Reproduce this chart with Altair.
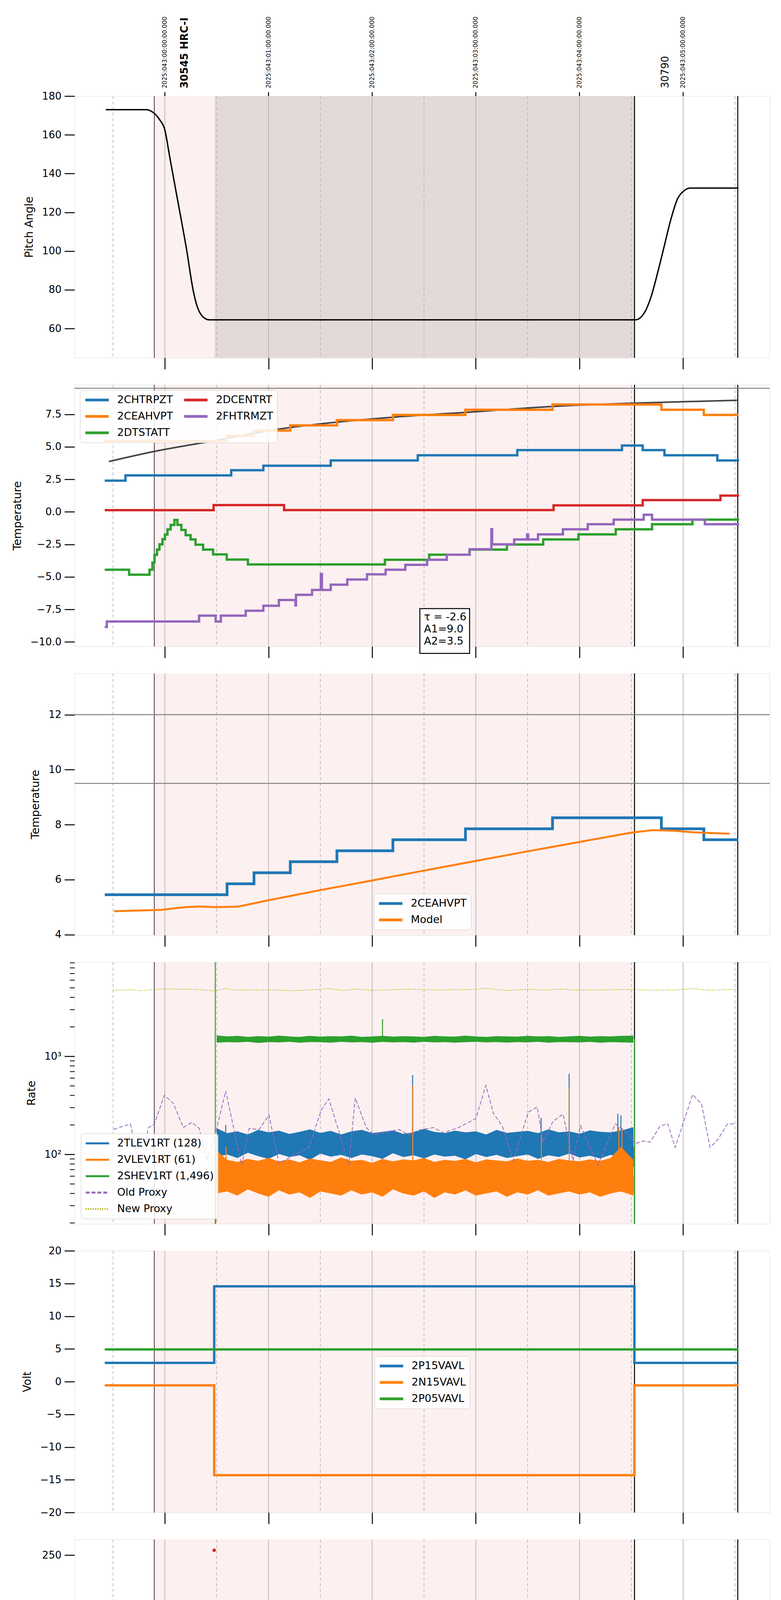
import altair as alt
import pandas as pd

FONT = "DejaVu Sans"
W, H, GAP = 1780, 670, 69
XDOM = [18.129, 24.835]
BLUE, ORANGE, GREEN, RED, PURPLE, OLIVE = "#1f77b4", "#ff7f0e", "#2ca02c", "#d62728", "#9467bd", "#bcbd22"

# ---------------- time reference data (hours of local day; 24 = 00h) ----------------
HOURS = [19, 20, 21, 22, 23, 24]
HALF_HOURS = [18.5, 19.5, 20.5, 21.5, 22.5, 23.5, 24.5]
HALF_LABELS = ["30", "30", "30", "30", "30", "30", "30"]
OBS = [18.898, 23.531]
DWELL = [19.479, 23.531]
VLINES = [18.898, 23.531, 24.527]
VLINE_W = [1.5, 2.5, 2.5]
DOY_T = [19, 20, 21, 22, 23, 24]
DOY_LABELS = ["2025:043:00:00:00.000", "2025:043:01:00:00.000", "2025:043:02:00:00.000",
              "2025:043:03:00:00.000", "2025:043:04:00:00.000", "2025:043:05:00:00.000"]
OBSID_BOLD_T, OBSID_BOLD = [19.19], ["30545 HRC-I"]
OBSID_T, OBSID = [23.83], ["30790"]

# ---------------- panel 1: pitch ----------------
PITCH_T = [18.43, 18.82, 18.86, 18.90, 18.95, 19.00, 19.044, 19.10, 19.15, 19.212, 19.272, 19.308,
           19.369, 19.429, 23.541, 23.63, 23.69, 23.754, 23.817, 23.88, 23.943, 24.006, 24.068, 24.534]
PITCH_V = [173.0, 173.0, 172.4, 171.0, 167.8, 162.5, 149.5, 133.0, 118.5, 100.0, 80.0, 72.0,
           66.0, 64.5, 64.5, 68.5, 76.3, 88.8, 102.4, 116.0, 126.6, 131.0, 132.5, 132.5]

# ---------------- panel 2: temperatures ----------------
CHTRPZT_T = [18.42, 18.62, 19.64, 19.95, 20.60, 21.44, 22.40, 23.41, 23.61, 23.82, 24.33, 24.54]
CHTRPZT_V = [2.4, 2.8, 3.2, 3.55, 3.95, 4.35, 4.75, 5.1, 4.75, 4.35, 3.95, 3.95]
CEAHVPT_T = [18.42, 19.60, 19.86, 20.21, 20.66, 21.20, 21.90, 22.74, 23.79, 24.20, 24.53]
CEAHVPT_V = [5.45, 5.85, 6.25, 6.65, 7.05, 7.45, 7.85, 8.25, 7.85, 7.45, 7.45]
DTSTATT_T = [18.42, 18.655, 18.852, 18.880, 18.900, 18.924, 18.948, 18.977, 19.001, 19.025, 19.056, 19.092,
             19.121, 19.159, 19.200, 19.248, 19.296, 19.369, 19.465, 19.597, 19.801, 21.123, 21.55, 21.94,
             22.30, 22.65, 22.99, 23.35, 23.70, 24.09, 24.54]
DTSTATT_V = [-4.45, -4.83, -4.45, -3.9, -3.3, -2.9, -2.5, -2.1, -1.75, -1.35, -1.0, -0.62,
             -1.0, -1.39, -1.79, -2.12, -2.53, -2.9, -3.27, -3.67, -4.04, -3.68, -3.29, -2.9,
             -2.51, -2.12, -1.73, -1.34, -0.95, -0.6, -0.6]
DCENTRT_T = [18.42, 19.47, 20.15, 22.75, 23.61, 24.36, 24.54]
DCENTRT_V = [0.13, 0.52, 0.14, 0.5, 0.9, 1.25, 1.25]
FHTRMZT_T = [18.42, 18.44, 19.33, 19.49, 19.54, 19.78, 19.95, 20.10, 20.26, 20.265, 20.42, 20.505, 20.515,
             20.60, 20.76, 20.95, 21.13, 21.32, 21.53, 21.72, 21.94, 22.15, 22.157, 22.37, 22.495, 22.505,
             22.60, 22.84, 23.08, 23.33, 23.62, 23.70, 24.21, 24.54]
FHTRMZT_V = [-8.85, -8.43, -7.98, -8.43, -7.98, -7.6, -7.22, -6.78, -7.2, -6.38, -6.0, -4.78, -6.0,
             -5.6, -5.2, -4.8, -4.45, -4.07, -3.68, -3.29, -2.87, -1.33, -2.5, -2.12, -1.75, -2.12,
             -1.73, -1.34, -0.95, -0.6, -0.22, -0.6, -0.95, -0.95]
MODEL2_T = [18.46, 18.9, 19.5, 20.05, 20.6, 21.16, 22.0, 22.74, 23.53, 24.52]
MODEL2_V = [3.87, 4.65, 5.5, 6.3, 6.85, 7.25, 7.7, 8.1, 8.36, 8.58]
LIMIT2 = [9.5]
ANN_LINES = ["τ = -2.6", "A1=9.0", "A2=3.5"]
ANN_BOX = {"t0": [21.46], "t1": [21.94], "lo": [-10.88], "hi": [-7.44]}
ANN_POS = {"t": [21.50], "v": [-7.70]}

# ---------------- panel 3: 2CEAHVPT and model ----------------
MODEL3_T = [18.51, 18.97, 19.1, 19.2, 19.33, 19.5, 19.71, 20.0, 20.5, 21.0, 21.5, 22.0, 22.5, 23.0,
            23.5, 23.7, 23.9, 24.1, 24.3, 24.45]
MODEL3_V = [4.85, 4.9, 4.96, 5.0, 5.02, 5.0, 5.02, 5.25, 5.62, 5.97, 6.33, 6.68, 7.03, 7.37,
            7.71, 7.8, 7.78, 7.72, 7.69, 7.67]
LIMITS3 = [12.0, 9.5]

# ---------------- panel 4: rates (log) ----------------
BAND_T = [19.5, 19.6, 19.7, 19.8, 19.9, 20.0, 20.1, 20.2, 20.3, 20.4, 20.5, 20.6, 20.7, 20.8, 20.9, 21.0,
          21.1, 21.2, 21.3, 21.4, 21.5, 21.6, 21.7, 21.8, 21.9, 22.0, 22.1, 22.2, 22.3, 22.4, 22.5, 22.6,
          22.7, 22.8, 22.9, 23.0, 23.1, 23.2, 23.3, 23.4, 23.52]
SHEV_HI = [1640, 1600, 1620, 1580, 1610, 1590, 1630, 1600, 1580, 1620, 1590, 1610, 1600, 1630, 1580, 1600,
           1620, 1590, 1610, 1600, 1580, 1620, 1600, 1590, 1630, 1600, 1580, 1610, 1600, 1590, 1620, 1600,
           1610, 1580, 1600, 1620, 1590, 1610, 1600, 1620, 1630]
SHEV_LO = [1380, 1400, 1390, 1410, 1370, 1400, 1390, 1410, 1380, 1400, 1395, 1380, 1410, 1390, 1400, 1380,
           1405, 1390, 1400, 1385, 1410, 1390, 1400, 1380, 1395, 1410, 1390, 1400, 1385, 1400, 1390, 1410,
           1380, 1400, 1395, 1390, 1405, 1380, 1400, 1390, 1380]
TLEV_HI = [185, 165, 172, 160, 178, 168, 175, 162, 170, 180, 166, 174, 160, 172, 178, 165,
           170, 176, 162, 168, 182, 170, 165, 175, 168, 172, 160, 178, 166, 170, 174, 165,
           180, 168, 172, 163, 176, 170, 168, 175, 190]
TLEV_LO = [95, 100, 92, 104, 96, 90, 101, 94, 98, 88, 102, 95, 99, 92, 100, 96,
           90, 103, 94, 98, 91, 100, 95, 97, 89, 101, 94, 99, 92, 96, 100, 90,
           98, 94, 102, 93, 97, 91, 99, 95, 85]
VLEV_HI = [110, 88, 84, 90, 86, 92, 85, 89, 83, 91, 87, 84, 93, 86, 88, 82,
           90, 85, 89, 87, 92, 84, 88, 86, 90, 83, 89, 87, 85, 91, 86, 88,
           84, 90, 87, 85, 89, 86, 92, 120, 88]
VLEV_LO = [40, 42, 38, 44, 40, 37, 43, 39, 41, 36, 42, 40, 38, 43, 39, 41,
           37, 44, 40, 38, 42, 36, 41, 39, 43, 38, 40, 42, 37, 41, 39, 43,
           38, 40, 42, 39, 41, 37, 40, 42, 38]
TLEV_SPK_T = [19.489, 19.587, 21.39, 22.63, 22.90, 23.37, 23.40, 23.52]
TLEV_SPK_LO = [15, 120, 120, 120, 120, 120, 120, 75]
TLEV_SPK_HI = [150, 200, 645, 236, 665, 260, 250, 120]
VLEV_SPK_T = [19.490, 19.59, 21.392, 22.632, 22.902, 23.38, 23.41, 23.525]
VLEV_SPK_LO = [15, 60, 60, 60, 60, 60, 60, 40]
VLEV_SPK_HI = [70, 120, 505, 160, 485, 190, 180, 60]
SHEV_SPK_T = [19.486, 21.10, 23.532]
SHEV_SPK_LO = [15, 1500, 15]
SHEV_SPK_HI = [12000, 2400, 1500]
OLD_T = [18.505, 18.668, 18.755, 18.842, 18.899, 18.995, 19.082, 19.178, 19.26, 19.332, 19.404, 19.486,
         19.587, 19.659, 19.741, 19.813, 19.909, 20.005, 20.101, 20.197, 20.39, 20.51, 20.582, 20.678,
         20.774, 20.837, 20.943, 21.015, 21.111, 21.255, 21.351, 21.447, 21.592, 21.688, 21.832, 22.0,
         22.097, 22.169, 22.255, 22.361, 22.505, 22.592, 22.649, 22.745, 22.842, 22.938, 23.01, 23.178,
         23.346, 23.443, 23.539, 23.611, 23.683, 23.779, 23.852, 23.923, 24.092, 24.178, 24.26, 24.332,
         24.428, 24.51]
OLD_V = [180, 205, 71, 188, 205, 401, 332, 188, 213, 184, 88, 159,
         445, 196, 78, 184, 180, 252, 81, 92, 118, 286, 369, 173,
         78, 377, 188, 159, 166, 180, 159, 177, 188, 166, 188, 232,
         506, 263, 196, 86, 269, 305, 134, 218, 258, 86, 196, 78,
         205, 173, 129, 137, 134, 196, 205, 118, 409, 325, 118, 140,
         205, 205]
NEW_T = [18.505, 18.668, 18.755, 18.899, 18.995, 19.332, 19.476, 19.587, 19.669, 20.005, 20.197, 20.39,
         20.582, 20.726, 20.837, 21.015, 21.255, 21.351, 21.592, 21.976, 22.097, 22.313, 22.505, 22.649,
         22.842, 22.938, 23.178, 23.515, 23.659, 23.899, 24.092, 24.236, 24.51]
NEW_V = [4707, 4810, 4668, 4810, 4873, 4810, 4668, 4915, 4747, 4768, 4688, 4747,
         4915, 4707, 4873, 4707, 4810, 4852, 4768, 4810, 4957, 4688, 4852, 4747,
         4873, 4727, 4768, 4810, 4727, 4747, 4915, 4727, 4830]
MINOR_LOG = [20, 30, 40, 50, 60, 70, 80, 90, 200, 300, 400, 500, 600, 700, 800, 900,
             2000, 3000, 4000, 5000, 6000, 7000, 8000, 9000]

# ---------------- panel 5: volts ----------------
P15_T, P15_V = [18.42, 19.476, 23.53, 24.534], [2.87, 14.57, 2.87, 2.87]
N15_T, N15_V = [18.42, 19.476, 23.53, 24.534], [-0.57, -14.3, -0.57, -0.57]
P05_T, P05_V = [18.42, 24.534], [4.92, 4.92]

# ---------------- panel 6: HV monitor ----------------
IMHBLV_T = [19.476, 19.478, 19.479, 19.480, 19.482, 19.485, 19.488, 19.492, 19.496, 19.500, 19.505,
            19.510, 19.520, 19.530, 21.265, 21.361, 21.380, 21.447, 21.472, 21.553, 21.568, 21.673,
            22.914, 22.972, 23.000, 23.024, 23.097, 23.145, 23.164, 23.236, 23.250, 23.347, 23.530]
IMHBLV_V = [255, 127, 123, 119, 105, 106, 101, 97, 95, 92, 90,
            88, 87, 86, 79, 79, 79, 79, 79, 79, 79, 79,
            79, 79, 79, 79, 79, 79, 79, 79, 79, 79, 86]
IMHVLV_T = [19.476, 19.480, 19.485, 19.490, 19.495, 19.500, 21.265, 21.361, 21.380, 21.455, 21.553,
            21.673, 22.914, 22.972, 23.000, 23.024, 23.097, 23.145, 23.164, 23.236, 23.250, 23.347,
            23.356, 23.530]
IMHVLV_V = [99, 95, 90, 86, 83, 80, 127, 127, 127, 127, 127,
            127, 127, 127, 127, 127, 127, 127, 127, 127, 127, 127,
            127, 79]
HV_FLAT = {"t0": [19.50, 19.53], "t1": [23.53, 23.53], "v": [79.3, 86.1]}

# ---------------- panel 7: detector temps ----------------
SPINATM_T = [19.476, 19.63, 19.87, 20.88, 21.06, 21.23, 23.515]
SPINATM_V = [3.17, 2.7, 2.21, 1.74, 1.74, 2.21, 2.21]
SPHVATM_T = [19.476, 19.48, 20.063, 20.524, 20.967, 21.544, 21.794, 22.049, 22.722, 23.515]
SPHVATM_V = [13.0, 13.65, 13.98, 14.34, 14.65, 14.87, 15.0, 15.34, 15.68, 15.68]
IMINATM_T = [19.476, 20.654, 22.121, 23.25, 23.515]
IMINATM_V = [-0.54, -0.07, 0.34, 0.81, 0.81]
IMHVATM_T = [19.474, 19.478, 19.63, 19.741, 19.851, 19.967, 20.092, 20.245, 20.428, 20.654, 20.909,
             21.207, 21.592, 22.097, 22.707, 23.515, 23.52, 23.525]
IMHVATM_V = [-5, 12.99, 13.31, 13.65, 13.98, 14.34, 14.68, 15.0, 15.34, 15.68, 16.03,
             16.37, 16.74, 17.08, 17.4, 17.81, 25, -5]
B7_BLUE = ([20.88, 21.0, 21.115, 21.225, 21.31, 21.56, 21.64, 22.83, 22.88, 23.02, 23.12, 23.23, 23.34],
           [20.96, 21.02, 21.127, 21.29, 21.53, 21.595, 21.80, 22.86, 22.99, 23.08, 23.16, 23.26, 23.36],
           [1.74, 1.74, -3, -3, -3, -3, -3, -3, -3, -3, -3, -3, -3],
           [2.21, 2.21, 2.21, 2.21, 2.21, 2.21, 2.21, 2.21, 2.21, 2.21, 2.21, 2.21, 2.21])
B7_ORANGE = ([21.115, 21.225, 21.33, 21.49, 21.52, 21.548, 21.60, 21.665, 22.83, 22.905, 22.93, 23.16, 23.20, 23.345],
             [21.127, 21.30, 21.47, 21.50, 21.585, 21.558, 21.66, 21.79, 22.90, 22.92, 23.13, 23.175, 23.25, 23.365],
             [8.35, 8.35, 8.35, -3, 8.35, -3, 8.35, 8.64, 9.0, -3, 9.0, 9.0, 9.0, 9.3],
             [14.65, 14.65, 14.65, 14.65, 14.87, 14.87, 14.87, 14.87, 15.68, 15.68, 15.68, 15.68, 15.68, 15.68])
B7_GREEN = ([21.115, 21.225, 21.32, 21.50, 21.62, 22.83, 22.88, 23.03, 23.12, 23.23, 23.34],
            [21.127, 21.29, 21.47, 21.60, 21.80, 22.86, 23.00, 23.09, 23.16, 23.26, 23.36],
            [-0.07, -0.07, -0.07, -0.07, -0.07, 0.34, 0.34, 0.34, 0.34, 0.81, 0.81],
            [2.26, 2.26, 2.26, 2.26, 2.26, 2.26, 2.26, 2.26, 2.26, 2.26, 2.26])
B7_RED = ([21.11, 21.22, 21.49, 21.59, 21.72, 22.82, 23.03, 23.25, 23.34],
          [21.12, 21.47, 21.56, 21.70, 21.79, 23.0, 23.20, 23.27, 23.36],
          [14.9, 14.53, 14.53, 14.86, 14.86, 15.56, 15.56, 15.56, 15.56],
          [16.03, 16.37, 16.37, 16.74, 16.74, 17.4, 17.4, 17.4, 17.4])

# ---------------- panel 8: FEA temps ----------------
FRADPYT_T = [18.42, 19.068, 19.404, 19.861, 20.05, 20.27, 20.45, 20.65, 20.85, 21.07, 21.27, 21.505, 21.73,
             21.94, 22.2, 22.45, 22.71, 23.07, 23.265, 23.515, 23.77, 23.87, 23.96, 24.12, 24.41, 24.534]
FRADPYT_V = [-10.3, -9.61, -10.3, -9.61, -9.17, -8.79, -8.38, -7.96, -7.56, -7.16, -6.77, -6.37, -5.97,
             -5.58, -5.18, -4.8, -4.41, -4.03, -3.66, -3.26, -2.89, -2.49, -2.89, -3.26, -3.66, -3.66]
FEPRATM_T = [19.474, 19.478, 19.524, 19.596, 19.659, 19.736, 19.813, 19.933, 20.043, 20.188, 20.332, 20.486,
             20.669, 20.846, 21.039, 21.207, 21.45, 21.62, 21.79, 21.92, 22.17, 22.43, 22.69, 23.18, 23.27, 23.515]
FEPRATM_V = [-9.28, -8.53, -8.11, -7.69, -7.27, -6.86, -6.44, -6.02, -5.6, -5.19, -4.77, -4.37,
             -3.95, -3.52, -3.11, -2.69, -2.26, -1.82, -1.4, -0.97, -0.54, -0.05, 0.37, 0.81, 1.27, 1.27]
FE00ATM_T = [19.474, 19.476, 19.659, 19.765, 19.875, 19.981, 20.087, 20.222, 20.332, 20.452, 20.582, 20.717,
             20.847, 21.005, 21.159, 21.30, 21.808, 21.967, 22.159, 22.337, 22.529, 22.712, 22.866, 23.106,
             23.274, 23.515]
FE00ATM_V = [-10.5, -9.28, -8.91, -8.56, -8.18, -7.82, -7.46, -7.12, -6.72, -6.39, -6.02, -5.67,
             -5.36, -5.0, -4.65, -4.3, -3.29, -2.95, -2.61, -2.26, -1.95, -1.59, -1.35, -0.97,
             -0.65, -0.65]
B8_GREEN = ([21.115, 21.225, 21.31, 21.45, 21.62, 22.83, 22.88, 23.03, 23.12, 23.20, 23.34],
            [21.127, 21.29, 21.45, 21.62, 21.80, 22.86, 23.00, 23.09, 23.16, 23.22, 23.36],
            [-6.09, -6.09, -6.09, -6.09, -6.09, -6.09, -6.09, -6.09, -6.09, -6.09, -6.09],
            [-2.69, -2.69, -2.69, -2.26, -1.82, 0.37, 0.37, 0.37, 0.37, 0.81, 1.27])
B8_RED = ([20.012, 20.083, 20.24, 20.77, 20.963, 22.30, 21.11, 21.23, 21.32, 21.36, 21.43, 21.48, 21.545,
           21.63, 22.78, 22.85, 22.905, 23.17, 23.31, 23.405, 23.44, 23.515],
          [20.02, 20.091, 20.248, 20.778, 20.971, 22.308, 21.122, 21.29, 21.63, 21.38, 21.445, 21.492, 21.56,
           21.81, 22.83, 23.13, 22.925, 23.22, 23.33, 23.415, 23.45, 23.535],
          [-7.82, -8.57, -7.55, -6.1, -6.09, -2.26, -4.65, -5.05, -4.0, -4.4, -4.7, -11, -11,
           -3.68, -4.05, -1.35, -11, -1.0, -0.65, -0.65, -1.0, -11],
          [-7.43, -7.46, -7.12, -5.67, -5.36, -1.95, 2, 2, 2, 2, 2, 2, 2,
           2, 2, 2, 2, 2, 2, 0.05, -0.65, 2])

# ---------------- y-axis specs ----------------
MINUS = "replace(format(datum.value, '{f}'), '-', '\u2212')"
Y1 = dict(dom=[44.9, 180], values=[60, 80, 100, 120, 140, 160, 180], title="Pitch Angle")
Y2 = dict(dom=[-10.35, 9.77], values=[-10, -7.5, -5, -2.5, 0, 2.5, 5, 7.5], title="Temperature",
          expr=MINUS.format(f=".1f"))
Y3 = dict(dom=[3.98, 13.5], values=[4, 6, 8, 10, 12], title="Temperature")
Y4 = dict(dom=[19.6, 9160], values=[100, 1000], title="Rate", log=True,
          expr="datum.value == 100 ? '10\u00b2' : '10\u00b3'")
Y5 = dict(dom=[-20, 20], values=[-20, -15, -10, -5, 0, 5, 10, 15, 20], title="Volt", expr=MINUS.format(f="d"))
Y6 = dict(dom=[0, 266], values=[0, 50, 100, 150, 200, 250], title="HV Monitor")
Y7 = dict(dom=[-2.06, 18.55], values=[0, 2.5, 5, 7.5, 10, 12.5, 15, 17.5], title="Detector Temp",
          expr=MINUS.format(f=".1f"))
Y8 = dict(dom=[-9.88, 1.41], values=[-8, -6, -4, -2, 0], title="FEA Temp", expr=MINUS.format(f="d"))


def X(field="t", bottom=False):
    kw = dict(values=HOURS, tickSize=29, tickWidth=2.5, tickColor="black", domain=False, grid=False)
    if bottom:
        kw.update(labelExpr="datum.value == 24 ? '00h' : datum.value + 'h'", labelFontSize=30,
                  labelPadding=10, title="2025-02-12 (043)", titleFontSize=32, titlePadding=8,
                  labelFont=FONT, titleFont=FONT, titleFontWeight="normal", labelColor="black",
                  titleColor="black")
    else:
        kw.update(labels=False, title=None)
    return alt.X(field, type="quantitative", scale=alt.Scale(domain=XDOM, nice=False, zero=False),
                 axis=alt.Axis(**kw))


def Y(spec, field="v"):
    kw = dict(values=spec["values"], title=spec["title"], tickSize=26, tickWidth=2.5, tickColor="black",
              labelFontSize=26, labelPadding=8, labelFont=FONT, labelColor="black", titleFontSize=28,
              titleFont=FONT, titleFontWeight="normal", titleColor="black", titlePadding=18,
              domain=False, grid=False)
    if spec.get("expr"):
        kw["labelExpr"] = spec["expr"]
    sc = dict(domain=spec["dom"], nice=False, zero=False)
    if spec.get("log"):
        sc["type"] = "log"
    return alt.Y(field, type="quantitative", scale=alt.Scale(**sc), axis=alt.Axis(**kw))


def legend(x, y, columns=1, symbol="stroke", ssize=3600, swidth=7, soff=0, loff=18):
    return alt.Legend(title=None, orient="none", legendX=x, legendY=y, columns=columns, symbolType=symbol,
                      symbolSize=ssize, symbolStrokeWidth=swidth, symbolOffset=soff, labelFontSize=27,
                      labelFont=FONT, labelColor="black", fillColor="rgba(255,255,255,0.85)",
                      strokeColor="#cccccc", cornerRadius=6, padding=10, rowPadding=12, columnPadding=24,
                      labelOffset=loff, labelLimit=600, clipHeight=30)


def background(xb=False, dwell=False):
    lay = [alt.Chart(pd.DataFrame({"t0": [OBS[0]], "t1": [OBS[1]]})).mark_rect(color="#fdf0f0")
           .encode(x=X("t0", xb), x2="t1")]
    if dwell:
        lay.append(alt.Chart(pd.DataFrame({"t0": [DWELL[0]], "t1": [DWELL[1]]})).mark_rect(color="#e4d9d9")
                   .encode(x=X("t0", xb), x2="t1"))
    lay.append(alt.Chart(pd.DataFrame({"t": HOURS})).mark_rule(color="#b4b4b4", strokeWidth=1.8)
               .encode(x=X("t", xb)))
    lay.append(alt.Chart(pd.DataFrame({"t": HALF_HOURS})).mark_rule(color="#b4b4b4", strokeWidth=1.6,
                                                                    strokeDash=[8, 6])
               .encode(x=X("t", xb)))
    lay.append(alt.Chart(pd.DataFrame({"t": VLINES, "w": VLINE_W})).mark_rule(color="black")
               .encode(x=X("t", xb), strokeWidth=alt.StrokeWidth("w:Q", scale=None, legend=None)))
    return lay


def hlines(vals, yspec, color="#808080", width=2.5):
    return alt.Chart(pd.DataFrame({"v": vals})).mark_rule(color=color, strokeWidth=width).encode(y=Y(yspec))


def series(T, V, name, cenc, yspec, width, xb=False, interp="step-after"):
    df = pd.DataFrame({"t": T, "v": V, "series": [name] * len(T)})
    return alt.Chart(df).mark_line(interpolate=interp, strokeWidth=width, clip=True).encode(
        x=X("t", xb), y=Y(yspec), color=cenc)


def fixed_line(T, V, color, yspec, width, xb=False, interp="step-after"):
    df = pd.DataFrame({"t": T, "v": V})
    return alt.Chart(df).mark_line(interpolate=interp, strokeWidth=width, clip=True, color=color).encode(
        x=X("t", xb), y=Y(yspec))


def bursts(B, color, yspec, xb=False):
    df = pd.DataFrame({"t0": B[0], "t1": B[1], "lo": B[2], "hi": B[3]})
    return alt.Chart(df).mark_rect(color=color, clip=True).encode(
        x=X("t0", xb), x2="t1", y=Y(yspec, "lo"), y2="hi")


def spikes(T, LO, HI, color, yspec, width=2.5):
    df = pd.DataFrame({"t": T, "lo": LO, "hi": HI})
    return alt.Chart(df).mark_rule(color=color, strokeWidth=width, clip=True).encode(
        x=X("t"), y=Y(yspec, "lo"), y2="hi")


def band(T, LO, HI, color, yspec):
    df = pd.DataFrame({"t": T, "lo": LO, "hi": HI})
    return alt.Chart(df).mark_area(color=color, opacity=1, clip=True).encode(
        x=X("t"), y=Y(yspec, "lo"), y2="hi")


def cenc(domain, rng, leg):
    return alt.Color("series:N", scale=alt.Scale(domain=domain, range=rng), legend=leg)


# ---------------- panel 1 ----------------
p1_layers = background(dwell=True)
p1_layers.append(fixed_line(PITCH_T, PITCH_V, "black", Y1, 3.5, interp="monotone"))
p1_layers.append(alt.Chart(pd.DataFrame({"t": HOURS})).mark_rule(color="black", strokeWidth=2.5)
                 .encode(x=X("t"), y=alt.value(-10), y2=alt.value(0)))
p1_layers.append(alt.Chart(pd.DataFrame({"t": DOY_T, "label": DOY_LABELS}))
                 .mark_text(angle=270, align="left", baseline="middle", fontSize=15.5, font=FONT, color="black")
                 .encode(x=X("t"), y=alt.value(-20), text="label:N"))
p1_layers.append(alt.Chart(pd.DataFrame({"t": OBSID_BOLD_T, "label": OBSID_BOLD}))
                 .mark_text(angle=270, align="left", baseline="middle", fontSize=26, fontWeight="bold",
                            font=FONT, color="black")
                 .encode(x=X("t"), y=alt.value(-20), text="label:N"))
p1_layers.append(alt.Chart(pd.DataFrame({"t": OBSID_T, "label": OBSID}))
                 .mark_text(angle=270, align="left", baseline="middle", fontSize=26, font=FONT, color="black")
                 .encode(x=X("t"), y=alt.value(-20), text="label:N"))
p1 = alt.layer(*p1_layers).properties(width=W, height=H)

# ---------------- panel 2 ----------------
D2 = ["2CHTRPZT", "2CEAHVPT", "2DTSTATT", "2DCENTRT", "2FHTRMZT"]
C2 = cenc(D2, [BLUE, ORANGE, GREEN, RED, PURPLE], legend(14, 14, columns=2))
p2_layers = background()
p2_layers.append(hlines(LIMIT2, Y2))
p2_layers.append(fixed_line(MODEL2_T, MODEL2_V, "#444444", Y2, 4, interp="monotone"))
p2_layers.append(series(CHTRPZT_T, CHTRPZT_V, "2CHTRPZT", C2, Y2, 6))
p2_layers.append(series(CEAHVPT_T, CEAHVPT_V, "2CEAHVPT", C2, Y2, 6))
p2_layers.append(series(DTSTATT_T, DTSTATT_V, "2DTSTATT", C2, Y2, 6))
p2_layers.append(series(DCENTRT_T, DCENTRT_V, "2DCENTRT", C2, Y2, 6))
p2_layers.append(series(FHTRMZT_T, FHTRMZT_V, "2FHTRMZT", C2, Y2, 6))
p2_layers.append(alt.Chart(pd.DataFrame(ANN_BOX)).mark_rect(fill="white", stroke="black", strokeWidth=2.5)
                 .encode(x=X("t0"), x2="t1", y=Y(Y2, "lo"), y2="hi"))
p2_layers.append(alt.Chart(pd.DataFrame(ANN_POS)).mark_text(text=ANN_LINES, align="left", baseline="top",
                                                           fontSize=27, lineHeight=31, font=FONT, color="black")
                 .encode(x=X("t"), y=Y(Y2)))
p2 = alt.layer(*p2_layers).properties(width=W, height=H)

# ---------------- panel 3 ----------------
D3 = ["2CEAHVPT", "Model"]
C3 = cenc(D3, [BLUE, ORANGE], legend(766, 564))
p3_layers = background()
p3_layers.append(hlines(LIMITS3, Y3))
p3_layers.append(series(CEAHVPT_T, CEAHVPT_V, "2CEAHVPT", C3, Y3, 7))
p3_layers.append(series(MODEL3_T, MODEL3_V, "Model", C3, Y3, 5, interp="linear"))
p3 = alt.layer(*p3_layers).properties(width=W, height=H)

# ---------------- panel 4 ----------------
D4 = ["2TLEV1RT (128)", "2VLEV1RT (61)", "2SHEV1RT (1,496)", "Old Proxy", "New Proxy"]
LEG4 = legend(16, 439, swidth=5)
C4 = alt.Color("series:N", scale=alt.Scale(domain=D4, range=[BLUE, ORANGE, GREEN, PURPLE, OLIVE]), legend=LEG4)
S4 = alt.StrokeDash("series:N", scale=alt.Scale(domain=D4, range=[[1, 0], [1, 0], [1, 0], [10, 5], [3, 3]]),
                    legend=LEG4)
proxy_df = pd.concat([
    pd.DataFrame({"t": OLD_T, "v": OLD_V, "series": ["Old Proxy"] * len(OLD_T)}),
    pd.DataFrame({"t": NEW_T, "v": NEW_V, "series": ["New Proxy"] * len(NEW_T)}),
])
p4_layers = background()
p4_layers.append(alt.Chart(pd.DataFrame({"v": MINOR_LOG})).mark_rule(color="black", strokeWidth=2)
                 .encode(y=Y(Y4), x=alt.value(-12), x2=alt.value(0)))
p4_layers.append(band(BAND_T, TLEV_LO, TLEV_HI, BLUE, Y4))
p4_layers.append(spikes(TLEV_SPK_T, TLEV_SPK_LO, TLEV_SPK_HI, BLUE, Y4))
p4_layers.append(band(BAND_T, VLEV_LO, VLEV_HI, ORANGE, Y4))
p4_layers.append(spikes(VLEV_SPK_T, VLEV_SPK_LO, VLEV_SPK_HI, ORANGE, Y4))
p4_layers.append(band(BAND_T, SHEV_LO, SHEV_HI, GREEN, Y4))
p4_layers.append(spikes(SHEV_SPK_T, SHEV_SPK_LO, SHEV_SPK_HI, GREEN, Y4))
p4_layers.append(alt.Chart(proxy_df).mark_line(strokeWidth=2, clip=True)
                 .encode(x=X("t"), y=Y(Y4), color=C4, strokeDash=S4, detail="series:N"))
p4 = alt.layer(*p4_layers).properties(width=W, height=H)

# ---------------- panel 5 ----------------
D5 = ["2P15VAVL", "2N15VAVL", "2P05VAVL"]
C5 = cenc(D5, [BLUE, ORANGE, GREEN], legend(768, 270))
p5_layers = background()
p5_layers.append(series(P15_T, P15_V, "2P15VAVL", C5, Y5, 6))
p5_layers.append(series(N15_T, N15_V, "2N15VAVL", C5, Y5, 6))
p5_layers.append(series(P05_T, P05_V, "2P05VAVL", C5, Y5, 6))
p5 = alt.layer(*p5_layers).properties(width=W, height=H)

# ---------------- panel 6 ----------------
D6 = ["2SPHBLV", "2SPHVLV", "2IMHVLV", "2IMHBLV"]
C6 = cenc(D6, [BLUE, ORANGE, GREEN, RED],
          legend(778, 485, symbol="circle", ssize=80, swidth=0, soff=24, loff=40))
flat = pd.DataFrame(HV_FLAT)
p6_layers = background()
p6_layers.append(alt.Chart(flat.iloc[[0]]).mark_rule(color=GREEN, strokeWidth=10, strokeCap="round")
                 .encode(x=X("t0"), x2="t1", y=Y(Y6)))
p6_layers.append(alt.Chart(pd.DataFrame({"t": IMHVLV_T, "v": IMHVLV_V, "series": ["2IMHVLV"] * len(IMHVLV_T)}))
                 .mark_circle(size=80, opacity=1).encode(x=X("t"), y=Y(Y6), color=C6))
p6_layers.append(alt.Chart(flat.iloc[[1]]).mark_rule(color=RED, strokeWidth=13, strokeCap="round")
                 .encode(x=X("t0"), x2="t1", y=Y(Y6)))
p6_layers.append(alt.Chart(pd.DataFrame({"t": IMHBLV_T, "v": IMHBLV_V, "series": ["2IMHBLV"] * len(IMHBLV_T)}))
                 .mark_circle(size=80, opacity=1).encode(x=X("t"), y=Y(Y6), color=C6))
p6 = alt.layer(*p6_layers).properties(width=W, height=H)

# ---------------- panel 7 ----------------
D7 = ["2SPINATM", "2SPHVATM", "2IMINATM", "2IMHVATM"]
C7 = cenc(D7, [BLUE, ORANGE, GREEN, RED], legend(1518, 15))
p7_layers = background()
p7_layers.append(series(SPINATM_T, SPINATM_V, "2SPINATM", C7, Y7, 6))
p7_layers.append(bursts(B7_BLUE, BLUE, Y7))
p7_layers.append(series(SPHVATM_T, SPHVATM_V, "2SPHVATM", C7, Y7, 6))
p7_layers.append(bursts(B7_ORANGE, ORANGE, Y7))
p7_layers.append(series(IMINATM_T, IMINATM_V, "2IMINATM", C7, Y7, 6))
p7_layers.append(bursts(B7_GREEN, GREEN, Y7))
p7_layers.append(series(IMHVATM_T, IMHVATM_V, "2IMHVATM", C7, Y7, 6))
p7_layers.append(bursts(B7_RED, RED, Y7))
p7 = alt.layer(*p7_layers).properties(width=W, height=H)

# ---------------- panel 8 ----------------
D8 = ["2FHTRMZT", "2FRADPYT", "2FEPRATM", "2FE00ATM"]
C8 = cenc(D8, [BLUE, ORANGE, GREEN, RED], legend(1516, 482))
p8_layers = background(xb=True)
p8_layers.append(series(FHTRMZT_T, FHTRMZT_V, "2FHTRMZT", C8, Y8, 6, xb=True))
p8_layers.append(series(FRADPYT_T, FRADPYT_V, "2FRADPYT", C8, Y8, 6, xb=True))
p8_layers.append(series(FEPRATM_T, FEPRATM_V, "2FEPRATM", C8, Y8, 6, xb=True))
p8_layers.append(bursts(B8_GREEN, GREEN, Y8, xb=True))
p8_layers.append(series(FE00ATM_T, FE00ATM_V, "2FE00ATM", C8, Y8, 6, xb=True))
p8_layers.append(bursts(B8_RED, RED, Y8, xb=True))
p8_layers.append(alt.Chart(pd.DataFrame({"t": HALF_HOURS, "label": HALF_LABELS}))
                 .mark_text(align="center", baseline="top", fontSize=18, font=FONT, color="black")
                 .encode(x=X("t", True), y=alt.value(H + 8), text="label:N"))
p8 = alt.layer(*p8_layers).properties(width=W, height=H)

chart = (
    alt.vconcat(p1, p2, p3, p4, p5, p6, p7, p8, spacing=GAP, bounds="flush")
    .resolve_scale(color="independent", strokeDash="independent")
    .configure_view(stroke="black", strokeWidth=2.5)
    .configure(font=FONT, background="white", padding={"left": 22, "top": 33, "right": 5, "bottom": 5})
)

chart.save("out.html", embed_options={"renderer": "svg", "actions": False})
